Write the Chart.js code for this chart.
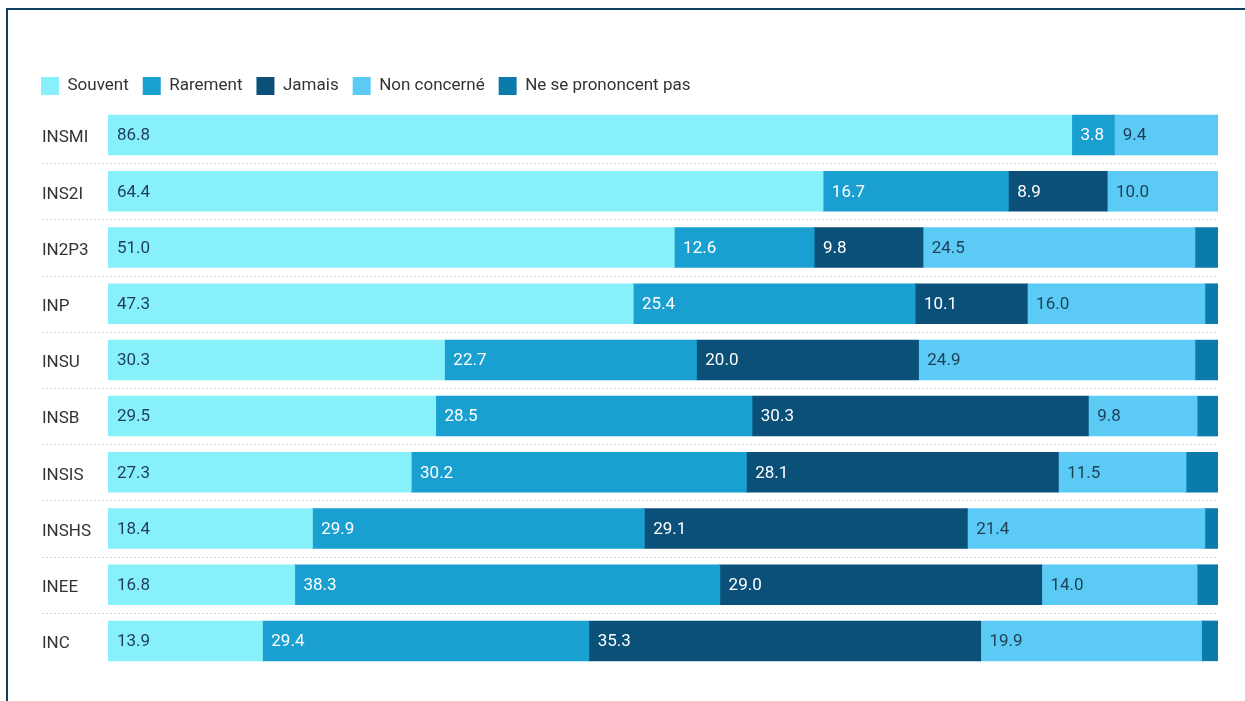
<!DOCTYPE html>
<html lang="fr">
  <head>
    <meta charset="UTF-8" />
    <title>Fréquence par institut</title>
    <script src="https://cdn.jsdelivr.net/npm/chart.js"></script>
    <style>
      body {
        margin: 0;
        background: #fff;
      }
      .frame {
        position: absolute;
        left: 6px;
        top: 8px;
        width: 1400px;
        height: 800px;
        border-top: 2px solid #0e3e60;
        border-left: 2px solid #0e3e60;
      }
      #myChart {
        position: absolute;
        left: 0;
        top: 0;
      }
    </style>
  </head>
  <body>
    <div class="frame"></div>
    <canvas id="myChart" width="1245" height="701"></canvas>

    <script>
      const categories = ["INSMI", "INS2I", "IN2P3", "INP", "INSU", "INSB", "INSIS", "INSHS", "INEE", "INC"];
      const seriesNames = ["Souvent", "Rarement", "Jamais", "Non concerné", "Ne se prononcent pas"];

      const souvent = [86.8, 64.4, 51.0, 47.3, 30.3, 29.5, 27.3, 18.4, 16.8, 13.9];
      const rarement = [3.8, 16.7, 12.6, 25.4, 22.7, 28.5, 30.2, 29.9, 38.3, 29.4];
      const jamais = [0, 8.9, 9.8, 10.1, 20.0, 30.3, 28.1, 29.1, 29.0, 35.3];
      const nonConcerne = [9.4, 10.0, 24.5, 16.0, 24.9, 9.8, 11.5, 21.4, 14.0, 19.9];
      const nsp = [0, 0, 2.1, 1.2, 2.1, 1.9, 2.9, 1.2, 1.9, 1.5];

      const colors = ["#88f0fa", "#1aa0d0", "#0b5079", "#5bcbf5", "#0a7baa"];
      const labelColors = ["#1f3d57", "#ffffff", "#ffffff", "#1f3d57", "#ffffff"];

      Chart.defaults.font.family = "Roboto";
      Chart.defaults.font.size = 17;
      Chart.defaults.color = "#333";

      // dotted separators between rows
      const separators = {
        id: "separators",
        beforeDatasetsDraw(chart) {
          const y = chart.scales.y;
          const ctx = chart.ctx;
          ctx.save();
          ctx.strokeStyle = "#d4d4d4";
          ctx.lineWidth = 1;
          ctx.setLineDash([2, 2]);
          for (let i = 0; i < categories.length - 1; i++) {
            const py = Math.round((y.getPixelForValue(i) + y.getPixelForValue(i + 1)) / 2) + 0.5;
            ctx.beginPath();
            ctx.moveTo(42, py);
            ctx.lineTo(chart.chartArea.right, py);
            ctx.stroke();
          }
          ctx.restore();
        },
      };

      // value labels inside the segments
      const valueLabels = {
        id: "valueLabels",
        afterDatasetsDraw(chart) {
          const ctx = chart.ctx;
          ctx.save();
          ctx.font = "17px Roboto";
          ctx.textBaseline = "middle";
          ctx.textAlign = "left";
          chart.data.datasets.forEach((ds, di) => {
            const meta = chart.getDatasetMeta(di);
            meta.data.forEach((bar, i) => {
              const v = ds.data[i];
              if (v < 3) return;
              ctx.fillStyle = labelColors[di];
              ctx.fillText(v.toFixed(1), Math.min(bar.base, bar.x) + 9, bar.y + 1);
            });
          });
          ctx.restore();
        },
      };

      // legend sizing / position tweaks
      const legendTweak = {
        id: "legendTweak",
        beforeLayout(chart) {
          const lg = chart.legend;
          if (lg && !lg._tweaked) {
            const fit = lg.fit;
            lg.fit = function () {
              fit.call(this);
              this.height = 44;
            };
            lg._tweaked = true;
          }
        },
        afterLayout(chart) {
          if (chart.legend) chart.legend.left = 27;
        },
      };

      const allSeries = [souvent, rarement, jamais, nonConcerne, nsp];

      let ctx = document.getElementById("myChart");
      let chart = new Chart(ctx, {
        type: "bar",
        data: {
          labels: categories,
          datasets: allSeries.map((d, i) => ({
            label: seriesNames[i],
            data: d,
            backgroundColor: colors[i],
            borderWidth: 0,
            inflateAmount: 0.6,
            barPercentage: 0.7,
            categoryPercentage: 1,
          })),
        },
        options: {
          indexAxis: "y",
          responsive: false,
          animation: false,
          layout: {
            padding: { left: 42, right: 27, top: 63, bottom: 32 },
          },
          plugins: {
            legend: {
              position: "top",
              align: "start",
              labels: {
                boxWidth: 18,
                boxHeight: 18,
                padding: 14,
                color: "#333",
                font: { size: 17 },
              },
            },
            tooltip: { enabled: false },
          },
          scales: {
            x: {
              stacked: true,
              display: false,
              min: 0,
              max: 100,
            },
            y: {
              stacked: true,
              grid: { display: false },
              border: { display: false },
              ticks: {
                crossAlign: "far",
                labelOffset: 3,
                color: "#333",
                font: { size: 17 },
              },
              afterFit(scale) {
                scale.width = 66;
              },
            },
          },
        },
        plugins: [separators, valueLabels, legendTweak],
      });
    </script>
  </body>
</html>
